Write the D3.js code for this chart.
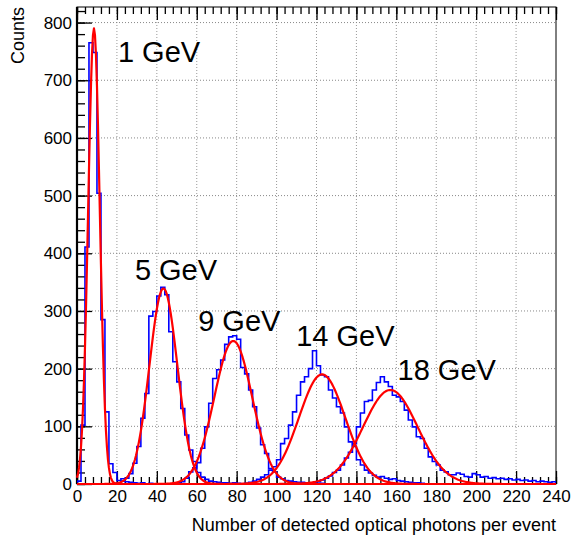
<!DOCTYPE html>
<html>
<head>
<meta charset="utf-8">
<script src="https://cdn.jsdelivr.net/npm/d3@7"></script>
<style>
  body { margin: 0; background: #fff; }
  text { font-family: "Liberation Sans", Arial, Helvetica, sans-serif; fill: #000; }
</style>
</head>
<body>
<div class="chart"></div>
<script>
// ---- data ----
const binWidth = 2;
const xTickLabels = [0, 20, 40, 60, 80, 100, 120, 140, 160, 180, 200, 220, 240];
const yTickLabels = [0, 100, 200, 300, 400, 500, 600, 700, 800];

const energies = ["1 GeV", "5 GeV", "9 GeV", "14 GeV", "18 GeV"];
// lower edge of first listed bin for each histogram
const startEdge = [0, 20, 50, 86, 118];

const counts1 = [5, 102, 411, 765, 748, 504, 285, 125, 35, 20, 6, 9, 4, 3, 2, 1, 2, 0, 1];
const counts5 = [2, 5, 10, 18, 36, 65, 114, 157, 291, 299, 326, 341, 328, 264, 212, 177, 131, 85, 59, 39,
                 20, 12, 8, 5, 4, 3, 2, 2, 1, 2, 1, 0, 1];
const counts9 = [2, 4, 10, 21, 28, 37, 62, 99, 140, 183, 198, 215, 242, 255, 257, 251, 202, 191, 163, 134,
                 97, 68, 53, 27, 21, 12, 9, 6, 5, 4, 3, 3, 2, 2, 1, 1, 1];
const counts14 = [3, 5, 8, 12, 16, 24, 30, 42, 70, 79, 102, 125, 154, 177, 186, 200, 231, 205, 189, 186,
                  163, 149, 134, 123, 99, 73, 65, 42, 33, 24, 19, 15, 12, 13, 10, 8, 9, 6, 5, 4, 3, 2, 2, 1];
const counts18 = [2, 4, 7, 10, 14, 20, 24, 33, 45, 55, 70, 99, 123, 143, 145, 163, 176, 186, 177, 169,
                  154, 151, 143, 128, 111, 99, 82, 79, 62, 47, 39, 33, 24, 21, 16, 16, 19, 17, 13, 12,
                  18, 16, 12, 13, 10, 11, 9, 10, 8, 9, 7, 8, 6, 7, 5, 6, 4, 5, 4, 3, 4];

// gaussian fit parameters
const fitAmp = [790, 339, 248, 190, 163];
const fitMean = [8.5, 43.3, 78.3, 122.8, 157];
const fitSigma = [2.9, 7.0, 9.5, 11.6, 13.7];

// label anchors, data coordinates
const labelX = [20.5, 29, 60.7, 109.8, 160.6];
const labelY = [732, 354, 266, 240, 180];

// ---- layout ----
const margin = {top: 7, right: 17, bottom: 53, left: 77};
const W = 573, H = 537;
const w = W - margin.left - margin.right;
const h = H - margin.top - margin.bottom;

const svg = d3.select(".chart")
    .append("svg")
        .attr("width", W)
        .attr("height", H);
const g = svg.append("g")
    .attr("transform", "translate(" + margin.left + "," + margin.top + ")");

const x = d3.scaleLinear().domain([0, 240]).range([0, w]);
const y = d3.scaleLinear().domain([0, 827]).range([h, 0]);

svg.append("clipPath").attr("id", "clip")
  .append("rect").attr("x", 0).attr("y", 0).attr("width", w).attr("height", h);

// grid
g.append("g").selectAll("line")
    .data(xTickLabels.slice(1, -1))
    .enter().append("line")
        .attr("x1", d => x(d)).attr("x2", d => x(d))
        .attr("y1", 0).attr("y2", h)
        .attr("stroke", "#999").attr("stroke-dasharray", "1,2");
g.append("g").selectAll("line")
    .data(yTickLabels.slice(1))
    .enter().append("line")
        .attr("x1", 0).attr("x2", w)
        .attr("y1", d => y(d)).attr("y2", d => y(d))
        .attr("stroke", "#888").attr("stroke-dasharray", "1,2");

// axes: major + minor ticks pointing inward
const xMinor = d3.range(0, 241, 4);
const yMinor = d3.range(0, 821, 20);

g.append("g").attr("transform", "translate(0," + h + ")")
    .call(d3.axisBottom(x).tickValues(xMinor).tickSize(-7).tickFormat(""))
    .call(a => a.select(".domain").remove());
g.append("g").attr("transform", "translate(0," + h + ")")
    .call(d3.axisBottom(x).tickValues(xTickLabels).tickSize(-13).tickPadding(6).tickFormat(d3.format("d")))
    .call(a => a.select(".domain").remove())
    .selectAll("text").style("font-size", "17px");
// top ticks
g.append("g")
    .call(d3.axisTop(x).tickValues(xMinor).tickSize(-7).tickFormat(""))
    .call(a => a.select(".domain").remove());
g.append("g")
    .call(d3.axisTop(x).tickValues(xTickLabels).tickSize(-13).tickFormat(""))
    .call(a => a.select(".domain").remove());

g.append("g")
    .call(d3.axisLeft(y).tickValues(yMinor).tickSize(-8).tickFormat(""))
    .call(a => a.select(".domain").remove());
g.append("g")
    .call(d3.axisLeft(y).tickValues(yTickLabels).tickSize(-15).tickPadding(5).tickFormat(d3.format("d")))
    .call(a => a.select(".domain").remove())
    .selectAll("text").style("font-size", "17px");

g.selectAll(".tick line").attr("stroke", "#000").attr("stroke-width", 1.3);

// frame
g.append("rect")
    .attr("x", 0).attr("y", 0).attr("width", w).attr("height", h)
    .attr("fill", "none").attr("stroke", "#000").attr("stroke-width", 1);
g.append("line")
    .attr("x1", 0).attr("x2", 0).attr("y1", 0).attr("y2", h)
    .attr("stroke", "#000").attr("stroke-width", 2.2);

// histograms
const allCounts = [counts1, counts5, counts9, counts14, counts18];
const nBins = 240 / binWidth;
const histLine = d3.line().x(d => x(d[0])).y(d => y(d[1]));

allCounts.forEach((cs, k) => {
    const first = startEdge[k] / binWidth;
    const pts = [[0, 0]];
    for (let i = 0; i < nBins; i++) {
        const j = i - first;
        const c = (j >= 0 && j < cs.length) ? cs[j] : 0;
        pts.push([i * binWidth, c]);
        pts.push([(i + 1) * binWidth, c]);
    }
    pts.push([240, 0]);
    g.append("path")
        .datum(pts)
        .attr("clip-path", "url(#clip)")
        .attr("fill", "none")
        .attr("stroke", "#0000ff")
        .attr("stroke-width", 1.6)
        .attr("d", histLine);
});

// fitted gaussians
const fitLine = d3.line().x(d => x(d[0])).y(d => y(d[1]));
const xs = d3.range(0, 240.01, 0.5);
energies.forEach((e, k) => {
    const pts = xs.map(v => [v, fitAmp[k] * Math.exp(-0.5 * Math.pow((v - fitMean[k]) / fitSigma[k], 2))]);
    g.append("path")
        .datum(pts)
        .attr("fill", "none")
        .attr("stroke", "#ff0000")
        .attr("stroke-width", 2.2)
        .attr("stroke-linejoin", "round")
        .attr("d", fitLine);
});

// energy labels
g.append("g").selectAll("text")
    .data(energies)
    .enter().append("text")
        .attr("x", (d, i) => x(labelX[i]))
        .attr("y", (d, i) => y(labelY[i]))
        .style("font-size", "29px")
        .text(d => d);

// axis titles
svg.append("text")
    .attr("x", margin.left + w)
    .attr("y", 531)
    .attr("text-anchor", "end")
    .style("font-size", "18px")
    .text("Number of detected optical photons per event");
svg.append("text")
    .attr("transform", "translate(24," + margin.top + ") rotate(-90)")
    .attr("text-anchor", "end")
    .style("font-size", "18px")
    .text("Counts");
</script>
</body>
</html>
